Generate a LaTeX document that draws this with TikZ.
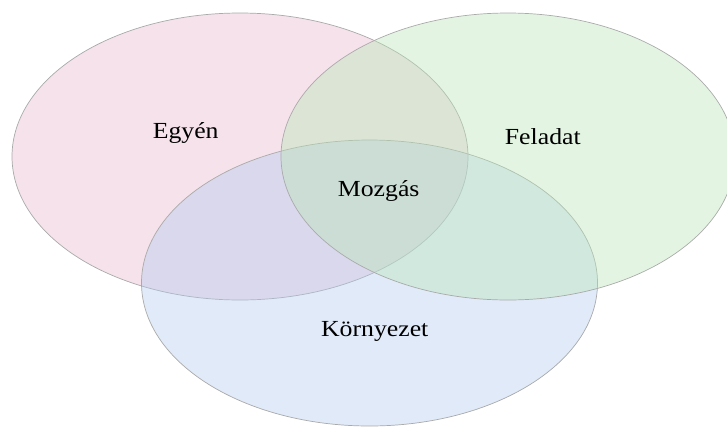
\documentclass[tikz,border=0pt]{standalone}
\usepackage{fontspec}
\setmainfont{Liberation Serif}
\usepackage{graphicx}
\usepackage{xcolor}
\usetikzlibrary{positioning}

\definecolor{egyenpink}{RGB}{230,182,205}
\definecolor{feladatgreen}{RGB}{185,230,182}
\definecolor{kornyezetblue}{RGB}{177,202,237}
\definecolor{rimgray}{RGB}{170,170,170}

\newcommand{\wide}[1]{\scalebox{1.12}[1]{#1}}

\tikzset{
  set/.style={draw=rimgray, line width=0.7pt, fill opacity=0.4},
  setlabel/.style={anchor=base, inner sep=0pt, font=\fontsize{23}{27}\selectfont}
}

\begin{document}
\begin{tikzpicture}[x=1pt, y=-1pt]
\useasboundingbox (0,0) rectangle (727,426);

%ellipses
\filldraw[set, fill=egyenpink] (240,156.5) ellipse [x radius=228, y radius=143.5];
\filldraw[set, fill=kornyezetblue] (369.5,283) ellipse [x radius=228, y radius=143];
\filldraw[set, fill=feladatgreen] (508,156.5) ellipse [x radius=227, y radius=143.5];

%labels
\node [setlabel] (egyen) at (185.7,138.5) {\wide{Egyén}};
\node [setlabel] (feladat) at (542.8,144) {\wide{Feladat}};
\node [setlabel] (mozgas) at (378.7,196.7) {\wide{Mozgás}};
\node [setlabel] (kornyezet) at (374.7,336) {\wide{Környezet}};

\end{tikzpicture}
\end{document}
